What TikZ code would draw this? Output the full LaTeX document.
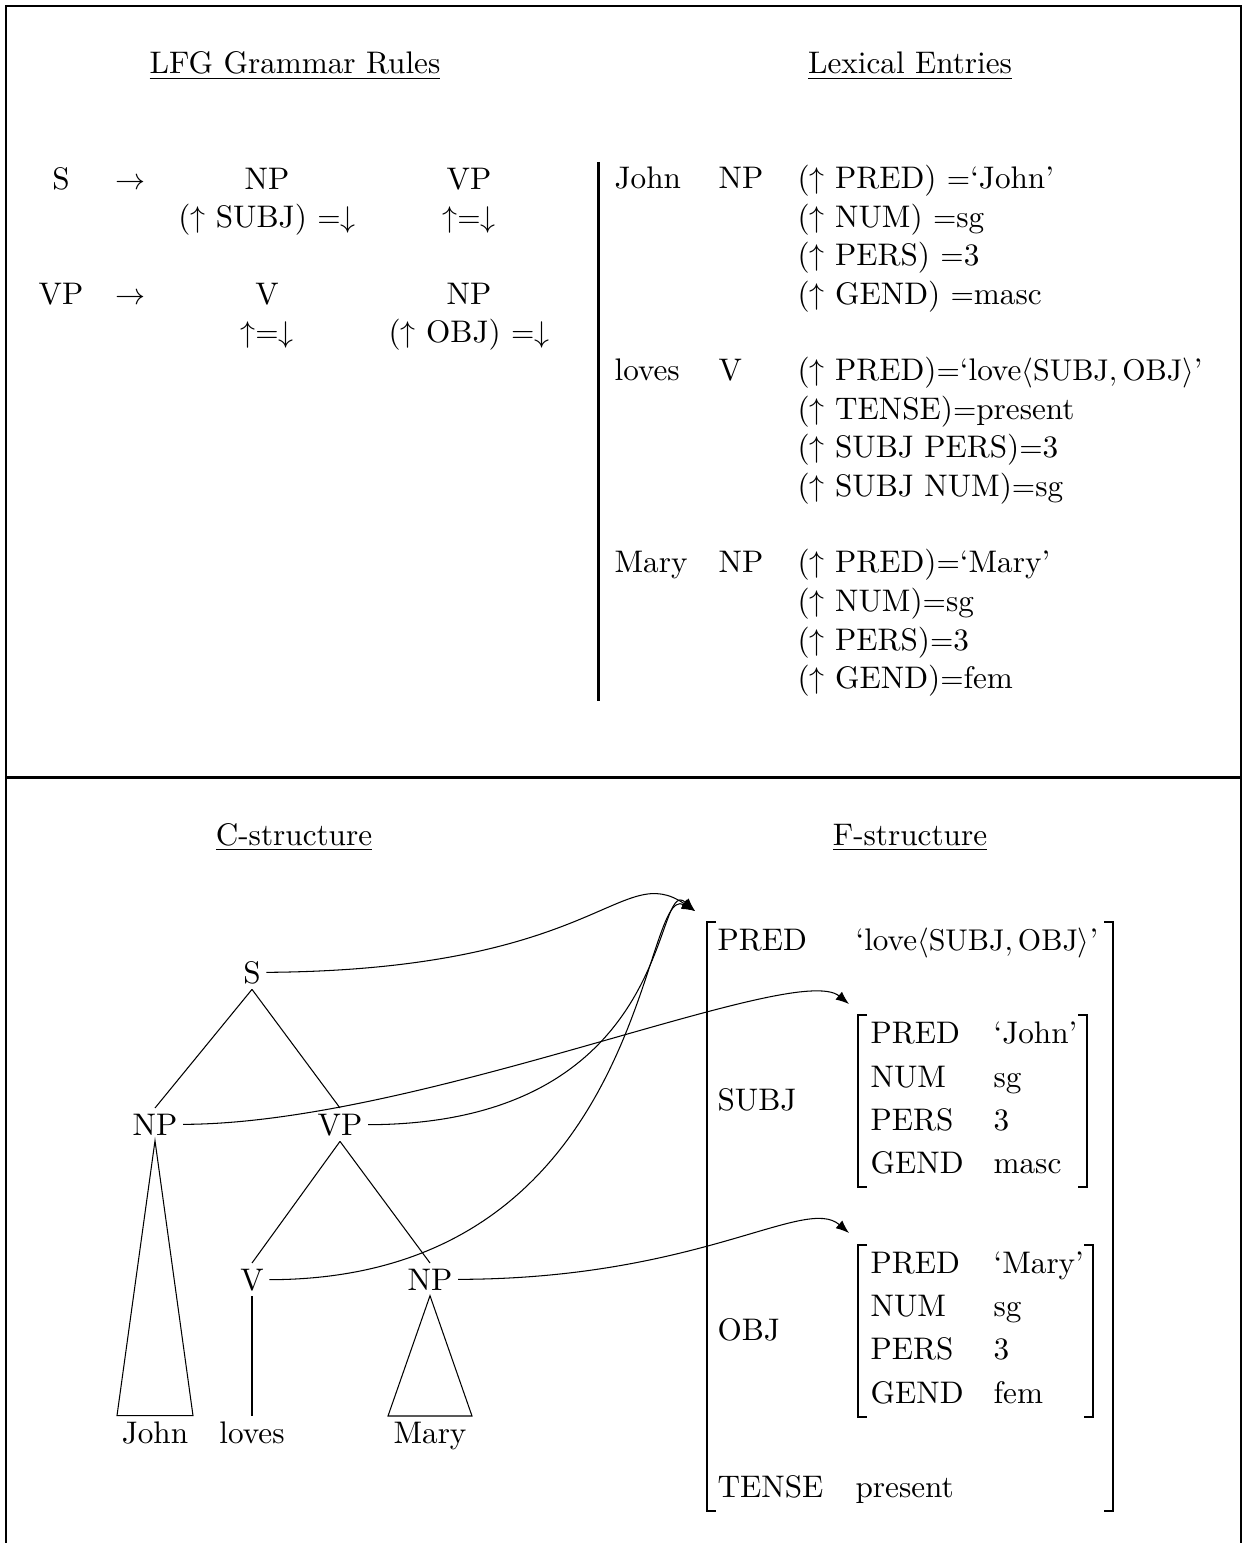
\documentclass[tikz,border=0pt]{standalone}
\usetikzlibrary{arrows.meta,calc}
\begin{document}
\begin{tikzpicture}[x=0.33333pt,y=-0.33333pt,
  every node/.style={font=\fontsize{10.4pt}{12.5pt}\selectfont, inner sep=0pt},
  txt/.style={anchor=base},
  lft/.style={anchor=base west},
  tn/.style={anchor=base, inner sep=1.7pt},
  frame/.style={line width=0.7pt},
  treeln/.style={line width=0.35pt},
  brk/.style={line width=0.55pt},
  conn/.style={line width=0.35pt, -{Latex[length=4.4pt,width=3.4pt]}},
]
\useasboundingbox (0,0) rectangle (1247,1543);
% frame
\draw[frame] (6,1543) -- (6,6) -- (1241,6) -- (1241,1543);
\draw[line width=1pt] (6,777) -- (1241,777);

% titles
\node[txt] (tLFG) at (295,74) {\underline{LFG Grammar Rules}};
\node[txt] (tLex) at (910,74) {\underline{Lexical Entries}};
\node[txt] (tC) at (294,845) {\underline{C-structure}};
\node[txt] (tF) at (910,845) {\underline{F-structure}};

% grammar rules
\node[txt] (r1a) at (61,190) {S};
\node[txt] (r1b) at (130,190) {$\rightarrow$};
\node[txt] (r1c) at (267,190) {NP};
\node[txt] (r1d) at (469,190) {VP};
\node[txt] (r1e) at (267,228) {($\uparrow$ SUBJ) $=\downarrow$};
\node[txt] (r1f) at (469,228) {$\uparrow=\downarrow$};
\node[txt] (r2a) at (61,305) {VP};
\node[txt] (r2b) at (130,305) {$\rightarrow$};
\node[txt] (r2c) at (267,305) {V};
\node[txt] (r2d) at (469,305) {NP};
\node[txt] (r2e) at (267,343) {$\uparrow=\downarrow$};
\node[txt] (r2f) at (469,343) {($\uparrow$ OBJ) $=\downarrow$};

% lexical entries
\draw[line width=1pt] (598,162) -- (598,701);
\node[lft] (lw1) at (614,189) {John};
\node[lft] (lc1) at (718,189) {NP};
\node[lft] (le11) at (797,189) {($\uparrow$ PRED) $=$‘John’};
\node[lft] (le12) at (797,227.5) {($\uparrow$ NUM) $=$sg};
\node[lft] (le13) at (797,266) {($\uparrow$ PERS) $=$3};
\node[lft] (le14) at (797,304.5) {($\uparrow$ GEND) $=$masc};
\node[lft] (lw2) at (614,381) {loves};
\node[lft] (lc2) at (718,381) {V};
\node[lft] (le21) at (797,381) {($\uparrow$ PRED)$=$‘love$\langle\mathrm{SUBJ},\mathrm{OBJ}\rangle$’};
\node[lft] (le22) at (797,419.5) {($\uparrow$ TENSE)$=$present};
\node[lft] (le23) at (797,458) {($\uparrow$ SUBJ PERS)$=$3};
\node[lft] (le24) at (797,496.5) {($\uparrow$ SUBJ NUM)$=$sg};
\node[lft] (lw3) at (614,573) {Mary};
\node[lft] (lc3) at (718,573) {NP};
\node[lft] (le31) at (797,573) {($\uparrow$ PRED)$=$‘Mary’};
\node[lft] (le32) at (797,611.5) {($\uparrow$ NUM)$=$sg};
\node[lft] (le33) at (797,650) {($\uparrow$ PERS)$=$3};
\node[lft] (le34) at (797,688.5) {($\uparrow$ GEND)$=$fem};

% C-structure
\node[tn] (S) at (252,983) {S};
\node[tn] (NPa) at (155,1135) {NP};
\node[tn] (VP) at (340,1135) {VP};
\node[tn] (V) at (252,1290) {V};
\node[tn] (NPb) at (430,1290) {NP};
\node[tn] (John) at (155,1443) {John};
\node[tn] (loves) at (252,1443) {loves};
\node[tn] (Mary) at (430,1443) {Mary};
\draw[treeln] (S.south) -- (NPa.north);
\draw[treeln] (S.south) -- (VP.north);
\draw[treeln] (VP.south) -- (V.north);
\draw[treeln] (VP.south) -- (NPb.north);
\draw[treeln] (V.south) -- (loves.north);
\draw[treeln] (NPa.south) -- ($(John.north)+(-38,0)$) -- ($(John.north)+(38,0)$) -- cycle;
\draw[treeln] (NPb.south) -- ($(Mary.north)+(-42,0)$) -- ($(Mary.north)+(42,0)$) -- cycle;

% F-structure
\coordinate (ftip) at (695,911);
\coordinate (stip) at (849,1004);
\coordinate (otip) at (849,1233);
\draw[brk] (716,922) -- (707,922) -- (707,1511) -- (716,1511);
\draw[brk] (1104,922) -- (1113,922) -- (1113,1511) -- (1104,1511);
\node[lft] (fPRED) at (717,950) {PRED};
\node[lft] (fPREDv) at (855,950) {‘love$\langle\mathrm{SUBJ},\mathrm{OBJ}\rangle$’};
\node[lft] (fSUBJ) at (717,1110) {SUBJ};
\node[lft] (fOBJ) at (717,1340) {OBJ};
\node[lft] (fTENSE) at (717,1497) {TENSE};
\node[lft] (fTENSEv) at (855,1497) {present};
% SUBJ inner
\draw[brk] (867,1015) -- (858,1015) -- (858,1187) -- (867,1187);
\draw[brk] (1078,1015) -- (1087,1015) -- (1087,1187) -- (1078,1187);
\node[lft] (s1) at (870,1043) {PRED};
\node[lft] (s1v) at (993,1043) {‘John’};
\node[lft] (s2) at (870,1087) {NUM};
\node[lft] (s2v) at (993,1087) {sg};
\node[lft] (s3) at (870,1130) {PERS};
\node[lft] (s3v) at (993,1130) {3};
\node[lft] (s4) at (870,1173) {GEND};
\node[lft] (s4v) at (993,1173) {masc};
% OBJ inner
\draw[brk] (867,1245) -- (858,1245) -- (858,1417) -- (867,1417);
\draw[brk] (1084,1245) -- (1093,1245) -- (1093,1417) -- (1084,1417);
\node[lft] (o1) at (870,1273) {PRED};
\node[lft] (o1v) at (993,1273) {‘Mary’};
\node[lft] (o2) at (870,1316) {NUM};
\node[lft] (o2v) at (993,1316) {sg};
\node[lft] (o3) at (870,1359) {PERS};
\node[lft] (o3v) at (993,1359) {3};
\node[lft] (o4) at (870,1403) {GEND};
\node[lft] (o4v) at (993,1403) {fem};

% mapping arrows
\draw[conn] (S.east) .. controls (600,970) and (620,860) .. (ftip);
\draw[conn] (VP.east) .. controls (680,1124) and (652,872) .. (ftip);
\draw[conn] (V.east) .. controls (650,1279) and (640,880) .. (ftip);
\draw[conn] (NPa.east) .. controls (420,1124) and (795,960) .. (stip);
\draw[conn] (NPb.east) .. controls (700,1279) and (805,1195) .. (otip);
\end{tikzpicture}
\end{document}
